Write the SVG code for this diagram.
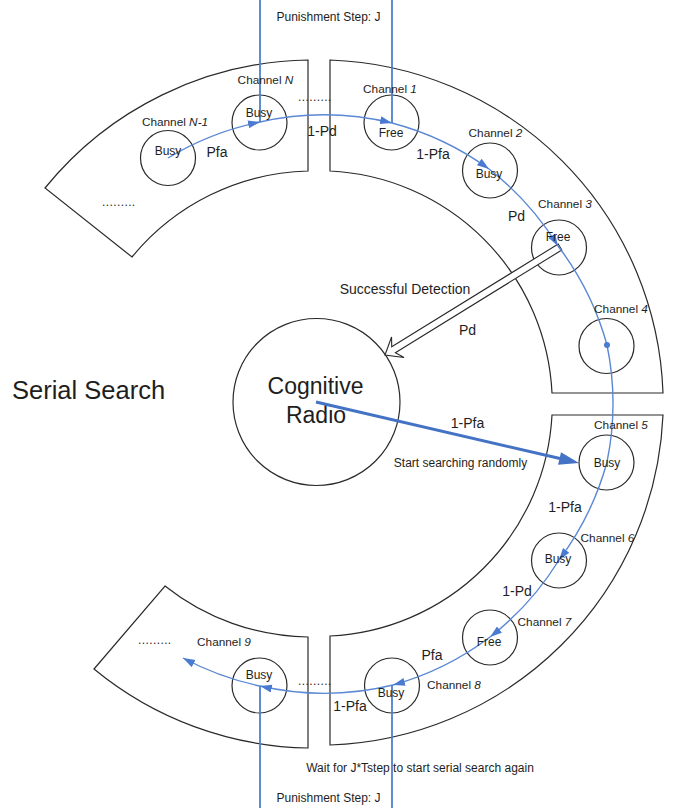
<svg xmlns="http://www.w3.org/2000/svg" width="678" height="808" viewBox="0 0 678 808">
<style>
.seg{fill:#fff;stroke:#2a2a2a;stroke-width:1.2}
.ch{fill:none;stroke:#2a2a2a;stroke-width:1.2}
.t{font-family:"Liberation Sans",Arial,sans-serif;fill:#1e1e1e}
.lbl{font-size:11.8px;text-anchor:middle}
.st{font-size:12px;text-anchor:middle}
.p{font-size:14px;text-anchor:middle}
.blue{fill:none;stroke:#5a88d4;stroke-width:1.4}
.vert{fill:none;stroke:#4f7fd0;stroke-width:1.8}
.dots{font-size:12px;letter-spacing:0.4px}
</style>
<defs>
<marker id="ah" markerUnits="userSpaceOnUse" markerWidth="14" markerHeight="10" refX="12" refY="4" orient="auto">
<path d="M0,0 L12,4 L0,8 z" fill="#4a7bd0"/>
</marker>
</defs>
<rect width="678" height="808" fill="#fff"/>

<g id="segments">
<path class="seg" d="M45,188 A346,346 0 0 1 308,60 L308,171 A235,235 0 0 0 132,257 Z"/>
<path class="seg" d="M330,60 A345,345 0 0 1 663,393 L552,393 A233.5,233.5 0 0 0 330,171 Z"/>
<path class="seg" d="M663,415 A345,345 0 0 1 330,745 L330,636 A233.5,233.5 0 0 0 552,415 Z"/>
<path class="seg" d="M308,748 A346,346 0 0 1 94,669 L165,586 A235,235 0 0 0 308,637 Z"/>
</g>

<g id="serial-search"><text class="t" x="12" y="399" font-size="25.5">Serial Search</text></g>

<g id="cognitive-radio">
<circle class="ch" cx="316.5" cy="402" r="83.5"/>
<text class="t" x="315.5" y="394" font-size="23" text-anchor="middle">Cognitive</text>
<text class="t" x="316" y="423" font-size="23" text-anchor="middle">Radio</text>
</g>

<g id="ch-n1"><circle class="ch" cx="168" cy="158" r="27.5"/></g>
<g id="ch-n"><circle class="ch" cx="259.5" cy="122.5" r="27.5"/></g>
<g id="ch-1"><circle class="ch" cx="391.5" cy="122.5" r="27.5"/></g>
<g id="ch-2"><circle class="ch" cx="490" cy="170.5" r="27.5"/></g>
<g id="ch-3"><circle class="ch" cx="559" cy="247.5" r="27.5"/></g>
<g id="ch-4"><circle class="ch" cx="606.5" cy="346" r="27.5"/></g>
<g id="ch-5"><circle class="ch" cx="606.5" cy="462.5" r="27.5"/></g>
<g id="ch-6"><circle class="ch" cx="559" cy="560.5" r="27.5"/></g>
<g id="ch-7"><circle class="ch" cx="490" cy="637.5" r="27.5"/></g>
<g id="ch-8"><circle class="ch" cx="392" cy="685.5" r="27.5"/></g>
<g id="ch-9"><circle class="ch" cx="259.5" cy="685.5" r="27.5"/></g>

<g id="connectors">
<polygon points="561.82,249.99 395.36,352.78 404.05,357.43 385,355 391.55,336.95 391.72,346.8 558.18,244.01" fill="#fff" stroke="#2a2a2a" stroke-width="1.1" stroke-linejoin="miter"/>
<path class="blue" marker-end="url(#ah)" d="M168,158 A290,290 0 0 1 260,122"/>
<path class="blue" marker-end="url(#ah)" d="M260,122 A290,290 0 0 1 392,123"/>
<path class="blue" marker-end="url(#ah)" d="M392,123 A290,290 0 0 1 489,169"/>
<path class="blue" marker-end="url(#ah)" d="M489,169 A290,290 0 0 1 558,246"/>
<path class="blue" d="M558,246 A290,290 0 0 1 607,345"/>
<path class="blue" d="M607,345 A290,290 0 0 1 607,462"/>
<path class="blue" marker-end="url(#ah)" d="M607,462 A290,290 0 0 1 559,560"/>
<path class="blue" marker-end="url(#ah)" d="M559,560 A290,290 0 0 1 490,637"/>
<path class="blue" marker-end="url(#ah)" d="M490,637 A290,290 0 0 1 393,685"/>
<path class="blue" marker-end="url(#ah)" d="M393,685 A290,290 0 0 1 260,686"/>
<path class="blue" marker-end="url(#ah)" d="M260,686 A290,290 0 0 1 183,658"/>
<circle cx="607" cy="345" r="3" fill="#4a7bd0"/>
<line class="vert" x1="260" y1="0" x2="260" y2="122"/>
<line class="vert" x1="392" y1="0" x2="392" y2="123"/>
<line class="vert" x1="392" y1="685" x2="392" y2="808"/>
<line class="vert" x1="260" y1="686" x2="260" y2="808"/>
<line x1="316" y1="402" x2="560" y2="458.5" stroke="#4472c4" stroke-width="3"/>
<polygon points="579,463 558.04,464.79 561,452.13" fill="#4472c4"/>
</g>

<g id="labels" class="t">
<text class="lbl" x="175" y="126">Channel <tspan font-style="italic">N-1</tspan></text>
<text class="st" x="168" y="155">Busy</text>
<text class="p" x="217" y="157">Pfa</text>
<text class="lbl" x="265.5" y="84">Channel <tspan font-style="italic">N</tspan></text>
<text class="st" x="259" y="117">Busy</text>
<text class="dots" x="298" y="101">.........</text>
<text class="p" x="322" y="136">1-Pd</text>
<text class="lbl" x="390" y="93">Channel <tspan font-style="italic">1</tspan></text>
<text class="st" x="391" y="137">Free</text>
<text class="lbl" x="495.5" y="137">Channel <tspan font-style="italic">2</tspan></text>
<text class="p" x="433" y="159">1-Pfa</text>
<text class="st" x="489" y="178">Busy</text>
<text class="lbl" x="565" y="208">Channel <tspan font-style="italic">3</tspan></text>
<text class="p" x="516.5" y="221">Pd</text>
<text class="st" x="558" y="241">Free</text>
<text class="lbl" x="621" y="313">Channel <tspan font-style="italic">4</tspan></text>
<text class="p" x="405" y="294">Successful Detection</text>
<text class="p" x="467.5" y="335">Pd</text>
<text class="p" x="467.5" y="428">1-Pfa</text>
<text class="st" x="460.5" y="467" font-size="11.7">Start searching randomly</text>
<text class="lbl" x="621" y="429">Channel <tspan font-style="italic">5</tspan></text>
<text class="st" x="607" y="467">Busy</text>
<text class="p" x="565" y="512">1-Pfa</text>
<text class="lbl" x="607.5" y="542">Channel <tspan font-style="italic">6</tspan></text>
<text class="st" x="558" y="563">Busy</text>
<text class="p" x="517" y="596">1-Pd</text>
<text class="lbl" x="544.5" y="626">Channel <tspan font-style="italic">7</tspan></text>
<text class="st" x="489" y="646">Free</text>
<text class="p" x="432" y="660">Pfa</text>
<text class="lbl" x="454" y="689">Channel <tspan font-style="italic">8</tspan></text>
<text class="st" x="391" y="697">Busy</text>
<text class="p" x="350" y="711">1-Pfa</text>
<text class="lbl" x="224" y="646">Channel <tspan font-style="italic">9</tspan></text>
<text class="st" x="259" y="679">Busy</text>
<text class="dots" x="138" y="644">.........</text>
<text class="dots" x="298" y="685">.........</text>
<text class="dots" x="102" y="206">.........</text>
<text class="st" x="328.5" y="21" font-size="11.65">Punishment Step: J</text>
<text class="st" x="420" y="772" font-size="11.8">Wait for J*Tstep to start serial search again</text>
<text class="st" x="328.5" y="802" font-size="11.65">Punishment Step: J</text>
</g>
</svg>
